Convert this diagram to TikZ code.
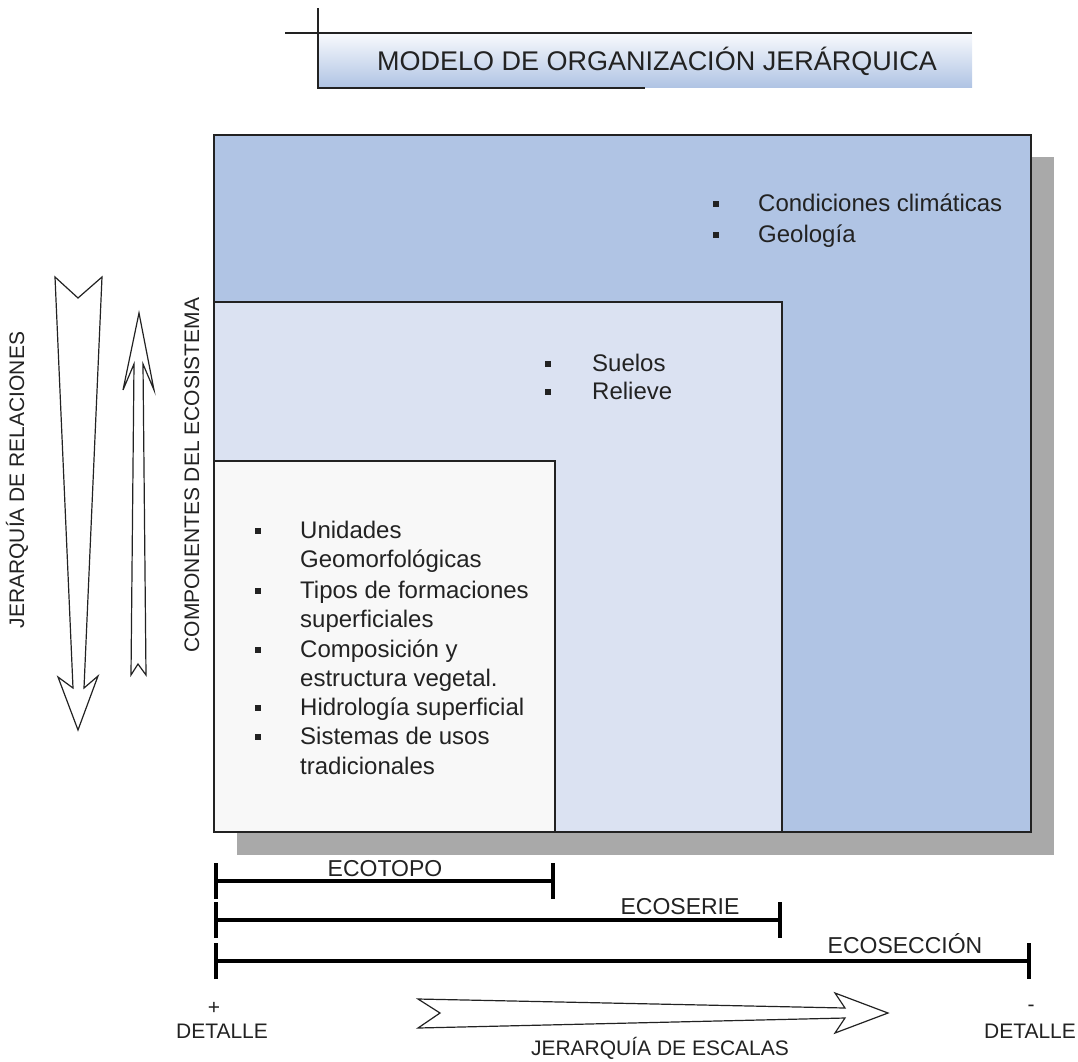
\documentclass[tikz,border=0pt]{standalone}
\usepackage{fontspec}
\setmainfont{Liberation Sans}
\usetikzlibrary{positioning,arrows.meta}

\definecolor{outerblue}{HTML}{B0C4E4}
\definecolor{midblue}{HTML}{DBE2F2}
\definecolor{innerwhite}{HTML}{F8F8F8}
\definecolor{shadowgray}{HTML}{A9A9A9}
\definecolor{ink}{HTML}{222222}

\tikzset{
  item/.style={anchor=mid west, inner sep=0pt, yshift=-5pt, text=ink, font=\fontsize{24}{29}\selectfont},
  bul/.style={fill=ink, minimum size=6.5pt, inner sep=0pt},
  caps/.style={text=ink, inner sep=0pt, font=\fontsize{21}{25}\selectfont},
  barlabel/.style={text=ink, inner sep=0pt, font=\fontsize{23}{27}\selectfont},
  titletext/.style={text=ink, inner sep=0pt, font=\fontsize{27}{32}\selectfont},
  box/.style={draw=ink, line width=1.5pt},
  scalebar/.style={draw=black, line width=3.8pt, {Bar[width=36pt]}-{Bar[width=36pt]}},
  hollow/.style={draw=ink, fill=white, line width=1.2pt, line join=miter}
}

\begin{document}
\begin{tikzpicture}[x=1pt,y=-1pt]
\useasboundingbox (0,0) rectangle (1078,1061);

% title
\shade[top color=white!92!outerblue, bottom color=outerblue] (318,33) rectangle (972,87);
\draw[line width=2pt, ink] (285,33) -- (972,33);
\draw[line width=1.2pt, ink] (318,8) -- (318,88) -- (645,88);
\node[titletext] (title) at (657,61) {MODELO DE ORGANIZACIÓN JERÁRQUICA};

% nested boxes
\fill[shadowgray] (237,157) rectangle (1054,855);
\filldraw[box, fill=outerblue] (214,135) rectangle (1031,832);
\filldraw[box, fill=midblue] (214,302) rectangle (782,832);
\filldraw[box, fill=innerwhite] (214,461) rectangle (555,832);

% outer box
\node[bul] (b1) at (716,204) {};
\node[bul] (b2) at (716,235) {};
\node[item] (clima) at (758,204) {Condiciones climáticas};
\node[item] (geol) at (758,235) {Geología};

% middle box
\node[bul] (b3) at (548,364) {};
\node[bul] (b4) at (548,392) {};
\node[item] (suel) at (592,364) {Suelos};
\node[item] (reli) at (592,392) {Relieve};

% inner box
\foreach \yy in {531,591,650,708,737}
  \node[bul] (p\yy) at (258,\yy) {};
\foreach \yy/\txt in {531/Unidades, 560/Geomorfológicas, 591/Tipos de formaciones,
    620/superficiales, 650/Composición y, 679/estructura vegetal.,
    708/Hidrología superficial, 737/Sistemas de usos, 767/tradicionales}
  \node[item] (t\yy) at (300,\yy) {\txt};

% side labels and arrows
\node[caps, rotate=90] (comp) at (192,475) {COMPONENTES DEL ECOSISTEMA};
\node[caps, rotate=90] (rel) at (17,480) {JERARQUÍA DE RELACIONES};
\draw[hollow] (55,277) -- (78,298) -- (102,277) -- (84,688) -- (98,676) -- (78,730)
  -- (58,677) -- (73,688) -- cycle;
\draw[hollow] (139,313) -- (154,390) -- (143,364) -- (146,675) -- (138,664) -- (131,675)
  -- (134,364) -- (123,390) -- cycle;

% scale bars
\coordinate (topoL) at (214,881);
\coordinate (topoR) at (555,881);
\coordinate (serieL) at (214,920);
\coordinate (serieR) at (782,920);
\coordinate (seccL) at (214,961);
\coordinate (seccR) at (1031,961);
\draw[scalebar] (topoL) -- (topoR);
\draw[scalebar] (serieL) -- (serieR);
\draw[scalebar] (seccL) -- (seccR);
\node[barlabel] (topo) at (385,869) {ECOTOPO};
\node[barlabel] (serie) at (680,907) {ECOSERIE};
\node[barlabel] (secc) at (905,944) {ECOSECCIÓN};

% bottom
\node[caps] (plus) at (214,1008) {+};
\node[caps] (det1) at (222,1031) {DETALLE};
\node[caps] (minus) at (1031,1008) {-};
\node[caps] (det2) at (1030,1031) {DETALLE};
\draw[hollow] (418,999) -- (845,1008) -- (835,993) -- (888,1013) -- (835,1033)
  -- (845,1018) -- (418,1028) -- (440,1013) -- cycle;
\node[caps] (esc) at (660,1048) {JERARQUÍA DE ESCALAS};
\end{tikzpicture}
\end{document}
